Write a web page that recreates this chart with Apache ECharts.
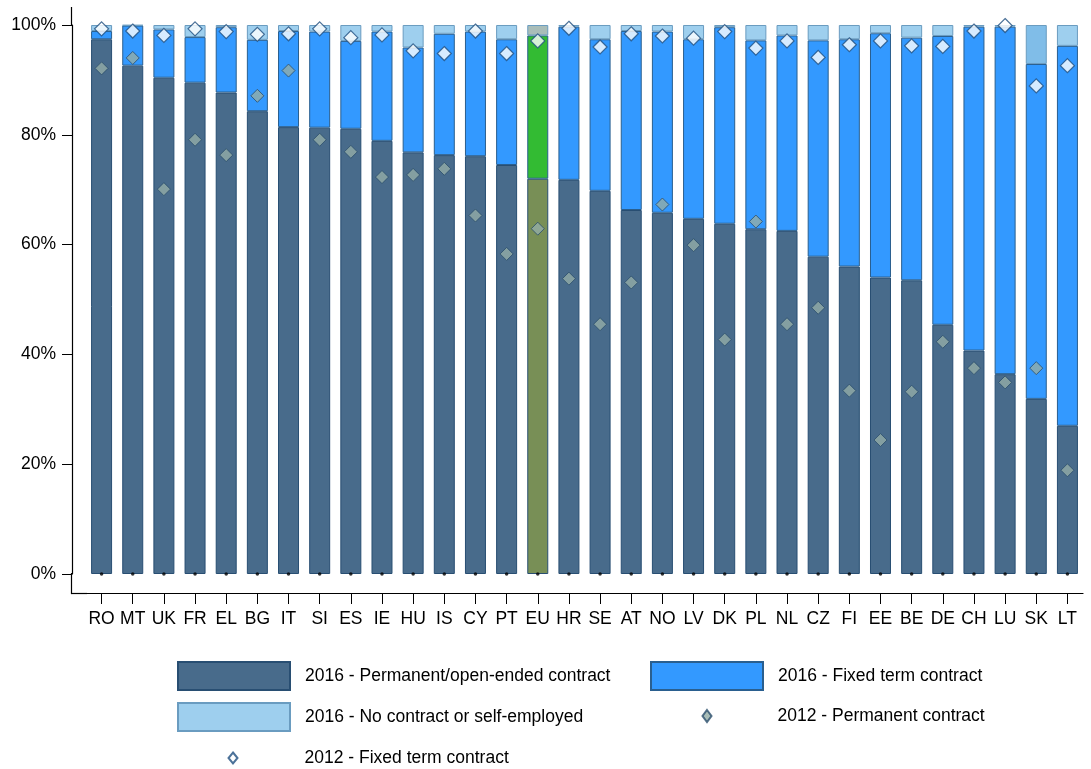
<!DOCTYPE html>
<html>
<head>
<meta charset="utf-8">
<script src="https://cdn.jsdelivr.net/npm/echarts@6/dist/echarts.min.js"></script>
<style>html,body{margin:0;padding:0;background:#fff}#c{width:1091px;height:769px}</style>
</head>
<body>
<div id="c"></div>
<script>
const categories = ['RO','MT','UK','FR','EL','BG','IT','SI','ES','IE','HU','IS','CY','PT','EU','HR','SE','AT','NO','LV','DK','PL','NL','CZ','FI','EE','BE','DE','CH','LU','SK','LT'];
const perm2016 = [97.4,92.6,90.4,89.5,87.7,84.3,81.4,81.3,81.1,78.9,76.8,76.3,76.1,74.5,72.0,71.8,69.8,66.3,65.8,64.7,63.8,62.8,62.5,57.8,56.0,54.0,53.5,45.4,40.7,36.4,31.9,27.0];
const fixed2016 = [1.5,7.3,8.8,8.3,11.9,13.0,17.5,17.5,16.0,19.9,19.1,22.1,22.7,22.9,26.1,27.9,27.6,32.6,33.0,32.7,35.8,34.4,35.6,39.4,41.4,44.5,44.2,52.6,59.0,63.3,61.0,69.2];
const noContract2016 = [1.1,0.1,0.8,2.2,0.4,2.7,1.1,1.2,2.9,1.2,4.1,1.6,1.2,2.6,1.9,0.3,2.6,1.1,1.2,2.6,0.4,2.8,1.9,2.8,2.6,1.5,2.3,2.0,0.3,0.3,7.1,3.8];
const perm2012 = [92.1,94.0,70.1,79.1,76.3,87.1,91.7,79.1,76.9,72.3,72.7,73.8,65.3,58.3,62.9,53.8,45.5,53.1,67.3,59.9,42.7,64.2,45.5,48.5,33.4,24.4,33.2,42.3,37.5,34.9,37.5,18.9];
const fixed2012 = [99.3,98.9,98.1,99.3,98.8,98.3,98.4,99.3,97.7,98.2,95.3,94.8,98.9,94.8,97.1,99.4,96.0,98.4,98.0,97.6,98.8,95.8,97.1,94.1,96.4,97.1,96.2,96.1,98.9,99.9,88.9,92.6];
const baseDots = categories.map(() => 0);
const yTicks = [0,20,40,60,80,100];

const EU = 'EU';
const FONT = 'Liberation Sans, Arial, sans-serif';
const FS = 17.5;
const names = {
  p16: '2016 - Permanent/open-ended contract',
  f16: '2016 - Fixed term contract',
  n16: '2016 - No contract or self-employed',
  p12: '2012 - Permanent contract',
  f12: '2012 - Fixed term contract'
};
function barData(arr, euColor, special) {
  return arr.map((v, i) => {
    const c = categories[i];
    if (c === EU) return { value: v, itemStyle: { color: euColor } };
    if (special && special[c]) return { value: v, itemStyle: { color: special[c] } };
    return v;
  });
}

const chart = echarts.init(document.getElementById('c'), null, { renderer: 'canvas' });
const legendBase = { orient: 'horizontal', padding: 0, selectedMode: false,
  textStyle: { fontFamily: FONT, fontSize: FS, color: '#000' } };
function lg(extra, pad) {
  return Object.assign({}, legendBase, extra, {
    textStyle: Object.assign({}, legendBase.textStyle, { padding: [0,0,0,pad] }) });
}
chart.setOption({
  animation: false,
  textStyle: { fontFamily: FONT },
  grid: { left: 86, top: 25, width: 997, height: 549, containLabel: false },
  xAxis: {
    type: 'category', data: categories, offset: 19,
    axisLine: { onZero: false, lineStyle: { color: '#000', width: 1.2 } },
    axisTick: { show: true, alignWithLabel: true, length: 11, lineStyle: { color: '#000', width: 1 } },
    axisLabel: { color: '#000', fontSize: FS, margin: 17, fontFamily: FONT, interval: 0 }
  },
  yAxis: {
    type: 'value', min: 0, max: 100, interval: 20, offset: 14,
    axisLine: { show: true, lineStyle: { color: '#000', width: 1.2 } },
    axisTick: { show: true, length: 10, lineStyle: { color: '#000', width: 1 } },
    splitLine: { show: false },
    axisLabel: { color: '#000', fontSize: FS, margin: 16, fontFamily: FONT,
      formatter: v => yTicks.includes(v) ? v + '%' : '' }
  },
  legend: [
    lg({ data: [{ name: names.p16, icon: 'rect' }], left: 177, top: 661, itemWidth: 112, itemHeight: 28 }, 10),
    lg({ data: [{ name: names.f16, icon: 'rect' }], left: 650, top: 661, itemWidth: 112, itemHeight: 28 }, 10),
    lg({ data: [{ name: names.n16, icon: 'rect' }], left: 177, top: 702, itemWidth: 112, itemHeight: 28 }, 10),
    lg({ data: [{ name: names.p12, icon: 'diamond' }], left: 701.5, top: 707, itemWidth: 9, itemHeight: 12 }, 61),
    lg({ data: [{ name: names.f12, icon: 'diamond' }], left: 227.5, top: 749, itemWidth: 9, itemHeight: 11 }, 62)
  ],
  graphic: [
    { type: 'line', shape: { x1: 71.5, y1: 593.5, x2: 87, y2: 593.5 }, style: { stroke: '#000', lineWidth: 1.2 } },
    { type: 'line', shape: { x1: 71.5, y1: 573, x2: 71.5, y2: 594.1 }, style: { stroke: '#000', lineWidth: 1.2 } },
    { type: 'line', shape: { x1: 71.5, y1: 7, x2: 71.5, y2: 26 }, style: { stroke: '#000', lineWidth: 1.2 } }
  ],
  series: [
    { name: names.p16, type: 'bar', stack: 's', barWidth: 21,
      itemStyle: { color: '#486b8b', borderColor: '#284e72', borderWidth: 1 },
      data: barData(perm2016, '#788f56') },
    { name: names.f16, type: 'bar', stack: 's', barWidth: 21,
      itemStyle: { color: '#3399ff', borderColor: '#2a5f8f', borderWidth: 1 },
      data: barData(fixed2016, '#33bb33') },
    { name: names.n16, type: 'bar', stack: 's', barWidth: 21,
      itemStyle: { color: '#9ecfee', borderColor: '#6a9cc0', borderWidth: 1 },
      data: barData(noContract2016, '#a9bdb8', { SK: '#80bde8' }) },
    { name: 'base', type: 'scatter', symbol: 'circle', symbolSize: 3.5, z: 5,
      itemStyle: { color: '#000' }, data: baseDots, silent: true },
    { name: names.p12, type: 'scatter', symbol: 'diamond', symbolSize: 13, z: 6,
      itemStyle: { color: '#93aca6', borderColor: '#2b4d6c', borderWidth: 1 },
      data: perm2012 },
    { name: names.f12, type: 'scatter', symbol: 'diamond', symbolSize: 14, z: 7,
      itemStyle: { color: '#ffffff', borderColor: '#1f4f80', borderWidth: 1.2 },
      data: fixed2012 }
  ]
});
</script>
</body>
</html>
